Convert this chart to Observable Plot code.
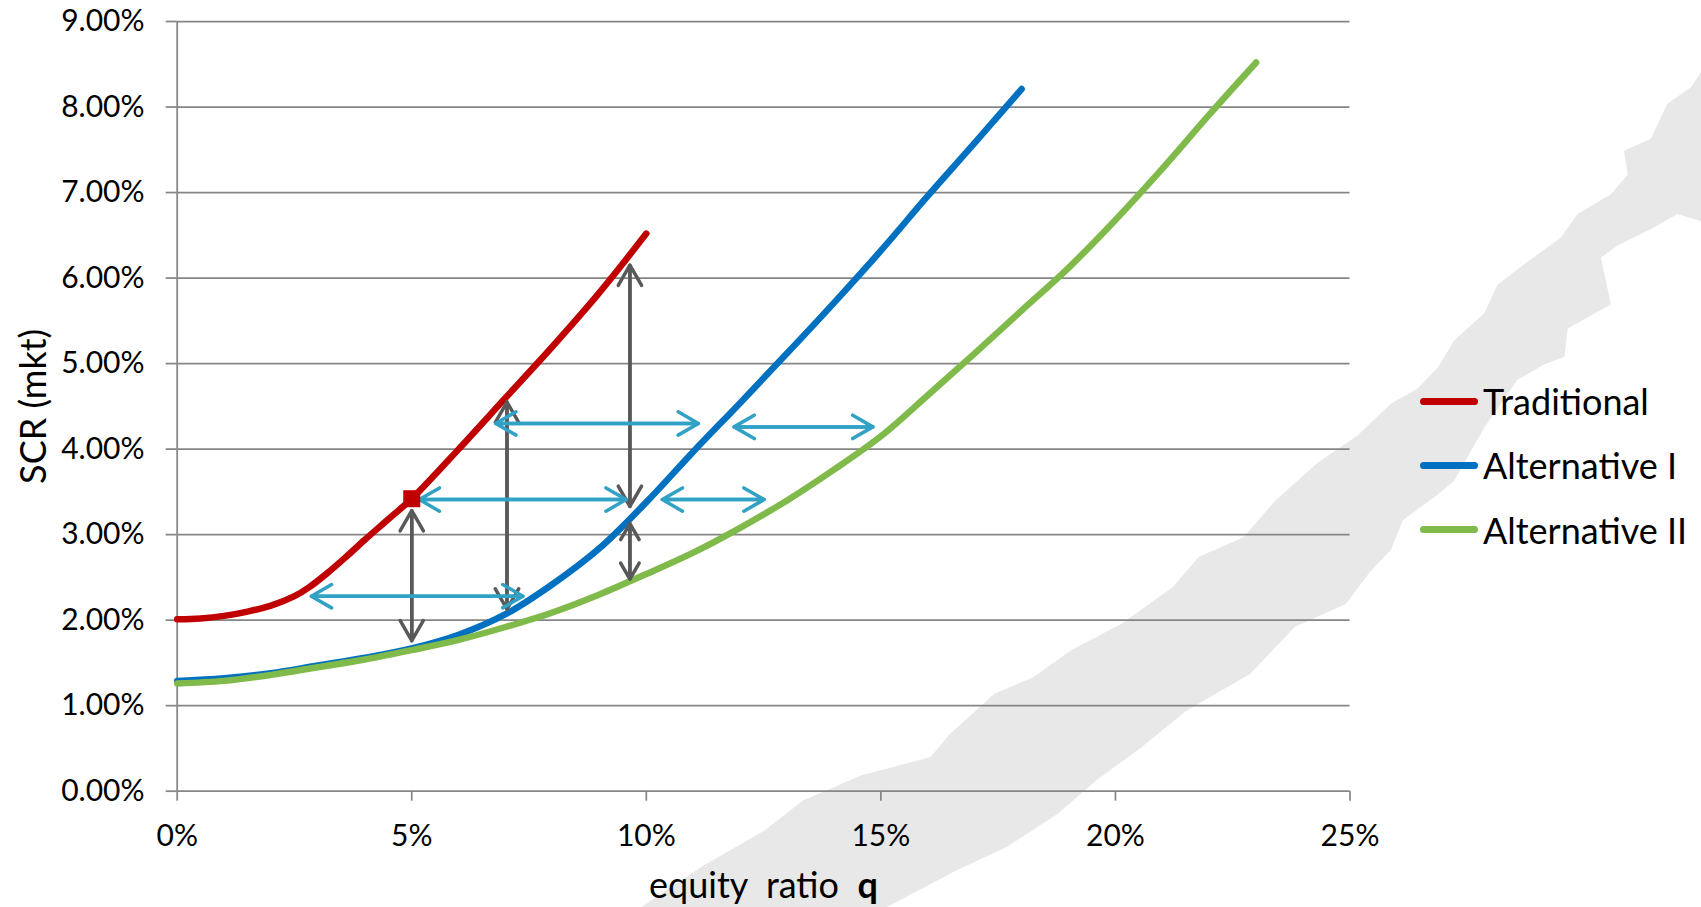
<!DOCTYPE html>
<html>
<head>
<meta charset="utf-8">
<script src="https://cdn.jsdelivr.net/npm/d3@7"></script>
<script src="https://cdn.jsdelivr.net/npm/@observablehq/plot@0.6"></script>
<style>
  html, body { margin: 0; padding: 0; background: #fff; overflow: hidden; }
  #wrap { position: relative; width: 1701px; height: 907px; font-family: Lato, "Open Sans", sans-serif; }
  #wrap svg { display: block; position: absolute; left: 0; top: 0; }
  #legend { position: absolute; left: 1420px; top: 369px; }
  .row { display: flex; align-items: center; height: 64.3px; font-size: 36px; line-height: 36px; color: #000; }
  .sw { width: 58px; height: 7px; border-radius: 4px; margin-right: 5px; }
  #xlabel { position: absolute; left: 649px; top: 866px; font-size: 36px; line-height: 36px; white-space: pre; color: #000; }
</style>
</head>
<body>
<div id="wrap"></div>
<script>
// ---- data (percent units) ----
const xTicks = [0, 5, 10, 15, 20, 25];
const yTicks = [0, 1, 2, 3, 4, 5, 6, 7, 8, 9];
const seriesNames = ["Traditional", "Alternative I", "Alternative II"];
const seriesColors = ["#C00000", "#0070C0", "#80BA4B"];

const tradQ   = [0, 0.5, 1, 1.5, 2, 2.5, 2.8, 3.2, 3.6, 4.0, 4.5, 5.0, 6.0, 7.0, 8.0, 9.0, 10.0];
const tradSCR = [2.01, 2.02, 2.05, 2.10, 2.17, 2.28, 2.38, 2.55, 2.74, 2.94, 3.18, 3.42, 4.00, 4.60, 5.20, 5.83, 6.52];

const alt1Q   = [0, 1, 2, 3, 4, 5, 6, 7, 8, 9, 10, 11, 12, 13, 14, 15, 16, 17, 18];
const alt1SCR = [1.29, 1.32, 1.38, 1.47, 1.56, 1.67, 1.83, 2.07, 2.42, 2.84, 3.38, 3.97, 4.54, 5.12, 5.71, 6.32, 6.96, 7.58, 8.21];

const alt2Q   = [0, 1, 2, 3, 4, 5, 6, 7, 8, 9, 10, 11, 12, 13, 14, 15, 16, 17, 18, 19, 20, 21, 22, 23];
const alt2SCR = [1.26, 1.29, 1.36, 1.45, 1.54, 1.65, 1.77, 1.92, 2.09, 2.30, 2.54, 2.79, 3.08, 3.40, 3.76, 4.15, 4.63, 5.12, 5.62, 6.12, 6.68, 7.28, 7.91, 8.52];

// highlighted point on the Traditional curve
const markerQ = [5.0];
const markerSCR = [3.42];

// double-headed arrows: [q1, scr1, q2, scr2]
const grayArrows = [
  [5.0, 3.28, 5.0, 1.76],
  [7.03, 4.55, 7.03, 2.13],
  [9.65, 6.15, 9.65, 3.33],
  [9.65, 3.13, 9.65, 2.48]
];
const cyanArrows = [
  [2.86, 2.28, 7.37, 2.28],
  [5.16, 3.41, 9.57, 3.41],
  [10.34, 3.41, 12.51, 3.41],
  [6.79, 4.30, 11.11, 4.30],
  [11.87, 4.26, 14.83, 4.26]
];

// faint background watermark outline (q, scr)
const wmQ = [9.88, 11.16, 12.52, 13.34, 14.56, 16.06, 16.47, 17.42, 18.24, 19.06, 20.14, 21.23, 21.78, 22.73, 23.41, 24.31, 25.16, 25.87, 26.44, 26.87, 27.22, 27.86, 28.14, 28.78, 29.49, 29.85, 30.56, 30.92, 30.84, 31.41, 31.77, 32.27, 32.50, 32.50, 31.98, 31.41, 30.70, 30.35, 30.56, 29.64, 29.57, 29.14, 28.57, 27.86, 27.22, 26.87, 26.13, 25.87, 25.45, 24.91, 23.82, 22.87, 21.51, 20.55, 19.60, 18.78, 17.69, 16.60, 15.11];
const wmSCR = [-1.36, -0.89, -0.46, -0.11, 0.18, 0.40, 0.67, 1.14, 1.33, 1.65, 1.96, 2.39, 2.74, 2.97, 3.40, 3.84, 4.16, 4.53, 4.71, 4.95, 5.27, 5.59, 5.92, 6.19, 6.47, 6.75, 6.98, 7.21, 7.49, 7.63, 8.04, 8.23, 8.42, 6.66, 6.75, 6.57, 6.38, 6.24, 5.69, 5.41, 5.08, 4.99, 4.81, 4.25, 3.63, 3.47, 3.17, 2.82, 2.58, 2.19, 1.92, 1.37, 0.94, 0.51, 0.13, -0.26, -0.65, -0.93, -1.36];

// ---- tables built from arrays ----
const lines = [];
[[tradQ, tradSCR], [alt1Q, alt1SCR], [alt2Q, alt2SCR]].forEach(([qs, ss], i) => {
  qs.forEach((q, j) => lines.push({series: seriesNames[i], q, scr: ss[j]}));
});
const watermark = wmQ.map((q, i) => ({q, scr: wmSCR[i]}));
const markers = markerQ.map((q, i) => ({q, scr: markerSCR[i]}));
const toArrow = a => ({x1: a[0], y1: a[1], x2: a[2], y2: a[3]});
const gray = grayArrows.map(toArrow);
const cyan = cyanArrows.map(toArrow);

const arrowPair = (data, color) => [
  Plot.arrow(data, {x1: "x1", y1: "y1", x2: "x2", y2: "y2", stroke: color, strokeWidth: 3.5, headLength: 10, headAngle: 60, strokeLinecap: "round", strokeLinejoin: "round"}),
  Plot.arrow(data, {x1: "x2", y1: "y2", x2: "x1", y2: "y1", stroke: color, strokeWidth: 3.5, headLength: 10, headAngle: 60, strokeLinecap: "round", strokeLinejoin: "round"})
];

const chart = Plot.plot({
  width: 1701,
  height: 907,
  marginLeft: 176.7,
  marginRight: 351.5,
  marginTop: 21,
  marginBottom: 116.3,
  x: {domain: [0, 25], label: null},
  y: {domain: [0, 9], label: null},
  color: {domain: seriesNames, range: seriesColors},
  style: {fontFamily: "Lato, 'Open Sans', sans-serif", fontSize: "30px", color: "#000", background: "transparent", overflow: "visible"},
  marks: [
    Plot.line(watermark, {x: "q", y: "scr", fill: "#e8e8e8", stroke: "none"}),
    Plot.gridY({ticks: yTicks, stroke: "#868686", strokeOpacity: 1, strokeWidth: 1.75}),
    Plot.ruleX([0], {stroke: "#868686", strokeWidth: 1.75}),
    Plot.axisY({ticks: yTicks, tickFormat: d => d.toFixed(2) + "%", tickSize: 11, tickPadding: 21.7, stroke: "#868686", strokeWidth: 1.75, fill: "#000", fontSize: 30, label: null}),
    Plot.axisX({ticks: xTicks, tickFormat: d => d + "%", tickSize: 10, tickPadding: 23.3, stroke: "#868686", strokeWidth: 1.75, fill: "#000", fontSize: 30, label: null}),
    Plot.text(["SCR (mkt)"], {text: d => d, frameAnchor: "left", textAnchor: "middle", rotate: -90, dx: -143, fontSize: 36, fill: "#000"}),
    Plot.line(lines, {x: "q", y: "scr", z: "series", stroke: "series", strokeWidth: 6.5, curve: "catmull-rom", strokeLinecap: "round", strokeLinejoin: "round"}),
    ...arrowPair(gray, "#595959"),
    ...arrowPair(cyan, "#31A1C5"),
    Plot.dot(markers, {x: "q", y: "scr", symbol: "square", r: 9.6, fill: "#C00000", stroke: "none"})
  ]
});

const wrap = document.getElementById("wrap");
wrap.appendChild(chart);

// legend
const legend = document.createElement("div");
legend.id = "legend";
seriesNames.forEach((name, i) => {
  const row = document.createElement("div");
  row.className = "row";
  const sw = document.createElement("div");
  sw.className = "sw";
  sw.style.background = seriesColors[i];
  const t = document.createElement("span");
  t.textContent = name;
  row.appendChild(sw);
  row.appendChild(t);
  legend.appendChild(row);
});
wrap.appendChild(legend);

// x-axis title
const xl = document.createElement("div");
xl.id = "xlabel";
xl.innerHTML = "equity  ratio  <b>q</b>";
wrap.appendChild(xl);
</script>
</body>
</html>
